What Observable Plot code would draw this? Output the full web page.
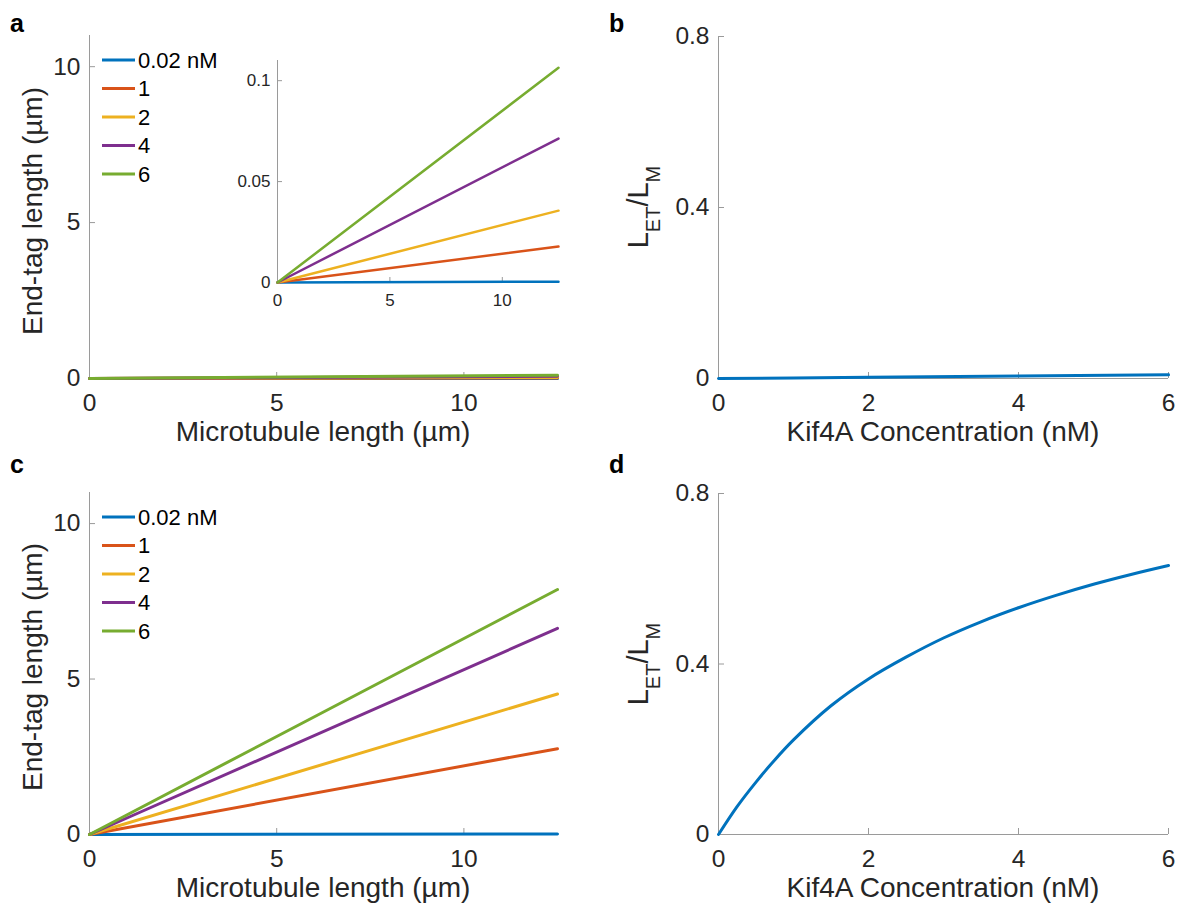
<!DOCTYPE html>
<html><head><meta charset="utf-8">
<script src="https://cdn.jsdelivr.net/npm/d3@7"></script>
<script src="https://cdn.jsdelivr.net/npm/@observablehq/plot@0.6"></script>
<style>
body{margin:0;background:#fff;}
#fig{position:relative;width:1180px;height:914px;background:#fff;overflow:hidden;}
#fig svg{position:absolute;overflow:visible;}
</style></head><body><div id="fig"></div>
<script>
// ---------- data ----------
const concLabels = ["0.02 nM", "1", "2", "4", "6"];
const mtLength = [0, 12.5];                       // µm (x of panels a, c)
// end-tag length (µm) at each mtLength, one array per concentration
const endTagA_002 = [0, 0.0004];
const endTagA_1   = [0, 0.0178];
const endTagA_2   = [0, 0.0356];
const endTagA_4   = [0, 0.0713];
const endTagA_6   = [0, 0.1064];
const endTagC_002 = [0, 0.02];
const endTagC_1   = [0, 2.76];
const endTagC_2   = [0, 4.52];
const endTagC_4   = [0, 6.63];
const endTagC_6   = [0, 7.88];
// L_ET / L_M vs Kif4A concentration
const kifB   = [0, 1, 2, 4, 6];
const ratioB = [0, 0.0014, 0.0028, 0.0057, 0.0085];
const kifD   = [0, 0.25, 0.5, 0.75, 1, 1.5, 2, 2.5, 3, 3.5, 4, 4.5, 5, 5.5, 6];
const ratioD = [0, 0.066, 0.123, 0.175, 0.222, 0.302, 0.365, 0.416, 0.461, 0.499, 0.532, 0.561, 0.587, 0.61, 0.631];
// tick values
const mtTicks = [0, 5, 10];
const etTicks = [0, 5, 10];
const insetYTicks = [0, 0.05, 0.1];
const ratioTicks = [0, 0.4, 0.8];
const kifTicks = [0, 2, 4, 6];

// ---------- styles ----------
const colors = ["#0072BD", "#D95319", "#EDB120", "#7E2F8E", "#77AC30"];
const axisGray = "#9a9a9a";
const textColor = "#262626";
const fontFam = '"Liberation Sans", Arial, Helvetica, sans-serif';

const seriesA = [endTagA_002, endTagA_1, endTagA_2, endTagA_4, endTagA_6];
const seriesC = [endTagC_002, endTagC_1, endTagC_2, endTagC_4, endTagC_6];
function toRows(series) {
  const rows = [];
  series.forEach((vals, i) => vals.forEach((v, j) => rows.push({series: concLabels[i], L: mtLength[j], y: v})));
  return rows;
}
const rowsA = toRows(seriesA);
const rowsC = toRows(seriesC);
const rowsB = kifB.map((c, i) => ({c, r: ratioB[i]}));
const rowsD = kifD.map((c, i) => ({c, r: ratioD[i]}));

const fig = document.getElementById("fig");

function panel(o) {
  const svg = Plot.plot({
    width: o.width, height: o.height,
    marginLeft: o.ml, marginRight: o.mr, marginTop: o.mt, marginBottom: o.mb,
    style: {fontFamily: fontFam, fontSize: o.fontSize + "px", background: "transparent", overflow: "visible"},
    x: {domain: o.xDomain, axis: null},
    y: {domain: o.yDomain, axis: null},
    color: {domain: concLabels, range: colors},
    marks: [
      Plot.ruleX([o.xDomain[0]], {stroke: axisGray, strokeWidth: 1}),
      Plot.ruleY([o.yDomain[0]], {stroke: axisGray, strokeWidth: 1}),
      Plot.axisX(o.xTicks, {anchor: "bottom", label: null, tickSize: -o.tick, tickPadding: o.tick + o.xPad,
        stroke: axisGray, fill: textColor, tickFormat: d => String(d)}),
      Plot.axisY(o.yTicks, {anchor: "left", label: null, tickSize: -o.tick, tickPadding: o.tick + o.yPad,
        stroke: axisGray, fill: textColor, tickFormat: d => String(d)}),
      ...o.marks
    ]
  });
  svg.style.left = o.left + "px";
  svg.style.top = o.top + "px";
  fig.appendChild(svg);
  return svg;
}

function addText(svg, o, x, y, str, opt = {}) {
  return d3.select(svg).append("text")
    .attr("transform", `translate(${x - o.left},${y - o.top})` + (opt.rotate ? ` rotate(${opt.rotate})` : ""))
    .attr("text-anchor", opt.anchor || "middle")
    .attr("font-family", fontFam)
    .attr("font-size", opt.size || 28)
    .attr("font-weight", opt.weight || "normal")
    .attr("fill", opt.fill || textColor)
    .text(str);
}

function addRatioLabel(svg, o, x, y) {
  const t = d3.select(svg).append("text")
    .attr("transform", `translate(${x - o.left},${y - o.top}) rotate(-90)`)
    .attr("text-anchor", "middle")
    .attr("font-family", fontFam)
    .attr("font-size", 29)
    .attr("fill", textColor);
  t.append("tspan").text("L");
  t.append("tspan").attr("font-size", 20).attr("dy", 12).text("ET");
  t.append("tspan").attr("dy", -12).text("/L");
  t.append("tspan").attr("font-size", 20).attr("dy", 12).text("M");
}

function addLegend(svg, o, x0, y0) {
  const g = d3.select(svg).append("g").attr("text-anchor", "start");
  concLabels.forEach((lab, i) => {
    const y = y0 + i * 28.5 - o.top;
    g.append("line").attr("x1", x0 - o.left).attr("x2", x0 + 33 - o.left).attr("y1", y).attr("y2", y)
      .attr("stroke", colors[i]).attr("stroke-width", 3);
    g.append("text").attr("x", x0 + 36 - o.left).attr("y", y).attr("dy", "0.36em")
      .attr("text-anchor", "start")
      .attr("font-family", fontFam).attr("font-size", 22).attr("fill", "#000").text(lab);
  });
}

// ---------- panel a ----------
const oA = {left: 0, top: 0, width: 590, height: 460, ml: 89, mr: 33, mt: 35, mb: 82,
  xDomain: [0, 12.5], yDomain: [0, 11], xTicks: mtTicks, yTicks: etTicks, tick: 6, xPad: 15, yPad: 9, fontSize: 24.5,
  marks: [Plot.line(rowsA, {x: "L", y: "y", z: "series", stroke: "series", strokeWidth: 3})]};
const svgA = panel(oA);
addLegend(svgA, oA, 102, 60);
addText(svgA, oA, 323, 441, "Microtubule length (µm)");
addText(svgA, oA, 42, 211, "End-tag length (µm)", {rotate: -90});
addText(svgA, oA, 10, 32, "a", {anchor: "start", weight: "bold", size: 25, fill: "#000"});

// inset of panel a
const oI = {left: 0, top: 0, width: 600, height: 300, ml: 277, mr: 42, mt: 60, mb: 18,
  xDomain: [0, 12.5], yDomain: [0, 0.11], xTicks: mtTicks, yTicks: insetYTicks, tick: 5, xPad: 11, yPad: 7, fontSize: 17,
  marks: [Plot.line(rowsA, {x: "L", y: "y", z: "series", stroke: "series", strokeWidth: 2.5})]};
panel(oI);

// ---------- panel b ----------
const oB = {left: 600, top: 0, width: 580, height: 460, ml: 118, mr: 12, mt: 36, mb: 82,
  xDomain: [0, 6], yDomain: [0, 0.8], xTicks: kifTicks, yTicks: ratioTicks, tick: 6, xPad: 15, yPad: 9, fontSize: 24.5,
  marks: [Plot.line(rowsB, {x: "c", y: "r", stroke: colors[0], strokeWidth: 3})]};
const svgB = panel(oB);
addText(svgB, oB, 943, 441, "Kif4A Concentration (nM)");
addRatioLabel(svgB, oB, 648, 207);
addText(svgB, oB, 609, 32, "b", {anchor: "start", weight: "bold", size: 25, fill: "#000"});

// ---------- panel c ----------
const oC = {left: 0, top: 456, width: 590, height: 458, ml: 89, mr: 33, mt: 36, mb: 80,
  xDomain: [0, 12.5], yDomain: [0, 11], xTicks: mtTicks, yTicks: etTicks, tick: 6, xPad: 15, yPad: 9, fontSize: 24.5,
  marks: [Plot.line(rowsC, {x: "L", y: "y", z: "series", stroke: "series", strokeWidth: 3})]};
const svgC = panel(oC);
addLegend(svgC, oC, 102, 517);
addText(svgC, oC, 323, 897, "Microtubule length (µm)");
addText(svgC, oC, 42, 667, "End-tag length (µm)", {rotate: -90});
addText(svgC, oC, 10, 473, "c", {anchor: "start", weight: "bold", size: 25, fill: "#000"});

// ---------- panel d ----------
const oD = {left: 600, top: 456, width: 580, height: 458, ml: 118, mr: 12, mt: 37, mb: 80,
  xDomain: [0, 6], yDomain: [0, 0.8], xTicks: kifTicks, yTicks: ratioTicks, tick: 6, xPad: 15, yPad: 9, fontSize: 24.5,
  marks: [Plot.line(rowsD, {x: "c", y: "r", stroke: colors[0], strokeWidth: 3, curve: "catmull-rom"})]};
const svgD = panel(oD);
addText(svgD, oD, 943, 897, "Kif4A Concentration (nM)");
addRatioLabel(svgD, oD, 648, 664);
addText(svgD, oD, 609, 473, "d", {anchor: "start", weight: "bold", size: 25, fill: "#000"});
</script></body></html>
